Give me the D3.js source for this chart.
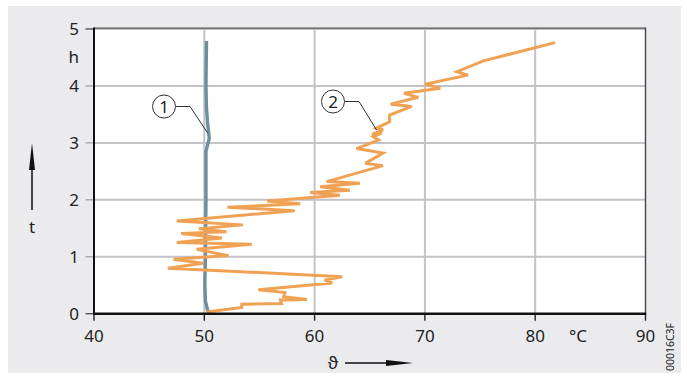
<!DOCTYPE html>
<html><head><meta charset="utf-8">
<script src="https://cdn.jsdelivr.net/npm/d3@7"></script>
<style>
html,body{margin:0;padding:0;background:#fff;}
svg{display:block;}
text{font-family:"Noto Sans","Open Sans",sans-serif;fill:#222;}
</style></head>
<body>
<svg id="c" width="687" height="381"></svg>
<script>
// ---- data ----
const tempTicks = [40, 50, 60, 70, 80, 90];
const timeTicks = [0, 1, 2, 3, 4, 5];
// curve 2 (orange): temperature °C vs time h
const curve2Temp = [50.2, 53.4, 53.4, 57.0, 56.9, 59.3, 57.2, 57.3, 54.9, 61.6, 60.9, 62.5, 46.7, 49.9, 47.2, 52.2, 49.3, 54.3, 47.5, 51.6, 47.9, 52.0, 49.5, 53.5, 47.5, 58.2, 52.1, 58.7, 55.7, 62.3, 59.6, 63.2, 60.5, 64.1, 61.1, 66.2, 64.6, 66.2, 63.8, 65.8, 65.3, 66.1, 65.2, 66.2, 65.6, 66.8, 66.8, 68.8, 66.9, 69.4, 68.1, 71.4, 70.0, 73.9, 72.9, 75.3, 81.8];
const curve2Time = [0.03, 0.11, 0.165, 0.18, 0.24, 0.25, 0.30, 0.37, 0.42, 0.54, 0.59, 0.65, 0.80, 0.885, 0.955, 1.02, 1.13, 1.22, 1.25, 1.33, 1.41, 1.44, 1.49, 1.56, 1.63, 1.81, 1.87, 1.93, 1.98, 2.08, 2.13, 2.17, 2.23, 2.29, 2.32, 2.60, 2.64, 2.82, 2.90, 3.05, 3.11, 3.17, 3.15, 3.23, 3.26, 3.37, 3.49, 3.64, 3.68, 3.80, 3.87, 3.96, 4.03, 4.19, 4.25, 4.44, 4.76];
// curve 1 (blue)
const curve1Temp = [50.35, 50.1, 50.05, 50.1, 50.15, 50.15, 50.15, 50.45, 50.3, 50.2, 50.15, 50.2];
const curve1Time = [0.03, 0.22, 0.5, 1.0, 2.0, 2.65, 2.85, 3.08, 3.35, 3.6, 4.0, 4.79];
const yLabels = ["0", "1", "2", "3", "4", "5"];
const xLabels = ["40", "50", "60", "70", "80", "90"];

// ---- drawing ----
const svg = d3.select("#c");
svg.append("rect").attr("x", 8).attr("y", 6).attr("width", 673).attr("height", 367).attr("fill", "#ebebed");

const x = d3.scaleLinear().domain([40, 90]).range([94, 645.5]);
const y = d3.scaleLinear().domain([0, 5]).range([313.7, 29]);

svg.append("rect").attr("x", x(40)).attr("y", y(5)).attr("width", x(90) - x(40)).attr("height", y(0) - y(5)).attr("fill", "#fff");

// grid
svg.append("g").selectAll("line").data(tempTicks.slice(1, -1)).join("line")
  .attr("x1", d => x(d)).attr("x2", d => x(d)).attr("y1", y(0)).attr("y2", y(5))
  .attr("stroke", "#c3c3c7").attr("stroke-width", 2);
svg.append("g").selectAll("line").data(timeTicks.slice(1)).join("line")
  .attr("x1", x(40)).attr("x2", x(90)).attr("y1", d => y(d)).attr("y2", d => y(d))
  .attr("stroke", "#c3c3c7").attr("stroke-width", 2);

// frame top/right
svg.append("line").attr("x1", x(40)).attr("x2", x(90)).attr("y1", y(5) - 0.8).attr("y2", y(5) - 0.8).attr("stroke", "#555").attr("stroke-width", 1.2);
svg.append("line").attr("x1", x(90)).attr("x2", x(90)).attr("y1", y(5) - 1.4).attr("y2", y(0)).attr("stroke", "#444").attr("stroke-width", 1.4);

// y ticks (left)
svg.append("g").selectAll("line").data(timeTicks).join("line")
  .attr("x1", 85.5).attr("x2", x(40)).attr("y1", d => y(d)).attr("y2", d => y(d))
  .attr("stroke", d => (d === 5 || d === 0) ? "#555" : "#a8a8ac").attr("stroke-width", 1.4);
// x ticks (below)
svg.append("g").selectAll("line").data(tempTicks).join("line")
  .attr("x1", d => x(d)).attr("x2", d => x(d)).attr("y1", y(0)).attr("y2", y(0) + 7)
  .attr("stroke", "#222").attr("stroke-width", 1.4);

// curves
const line = d3.line().x(d => x(d[0])).y(d => y(d[1]));
const c1 = curve1Temp.map((t, i) => [t, curve1Time[i]]);
const c2 = curve2Temp.map((t, i) => [t, curve2Time[i]]);
svg.append("path").attr("d", line(c1)).attr("fill", "none").attr("stroke", "#6e8fa0").attr("stroke-width", 3.4).attr("stroke-linejoin", "round");
svg.append("path").attr("d", line(c2)).attr("fill", "none").attr("stroke", "#f0a254").attr("stroke-width", 3).attr("stroke-linejoin", "miter").attr("stroke-miterlimit", 3);

// axes lines
svg.append("line").attr("x1", x(40)).attr("x2", x(40)).attr("y1", y(5) - 1.4).attr("y2", y(0) + 1).attr("stroke", "#111").attr("stroke-width", 2);
svg.append("line").attr("x1", x(40) - 1).attr("x2", x(90) + 0.7).attr("y1", y(0)).attr("y2", y(0)).attr("stroke", "#111").attr("stroke-width", 2.4);

// tick labels
const fs = 17;
svg.append("g").selectAll("text").data(timeTicks).join("text")
  .attr("x", 79).attr("y", d => y(d) + 6).attr("text-anchor", "end").attr("font-size", fs)
  .text((d, i) => yLabels[i]);
svg.append("text").attr("x", 79).attr("y", y(4.5) + 6).attr("text-anchor", "end").attr("font-size", fs).text("h");
svg.append("g").selectAll("text").data(tempTicks).join("text")
  .attr("x", d => x(d)).attr("y", 342).attr("text-anchor", "middle").attr("font-size", fs)
  .text((d, i) => xLabels[i]);
svg.append("text").attr("x", 578).attr("y", 342).attr("text-anchor", "middle").attr("font-size", fs).text("°C");

// axis titles with arrows
svg.append("text").attr("x", 333).attr("y", 369).attr("text-anchor", "middle").attr("font-size", fs).text("ϑ");
svg.append("line").attr("x1", 345).attr("x2", 390).attr("y1", 363).attr("y2", 363).attr("stroke", "#111").attr("stroke-width", 1.5);
svg.append("path").attr("d", "M386,360 L413,363 L386,366 Z").attr("fill", "#111");
svg.append("line").attr("x1", 32).attr("x2", 32).attr("y1", 210).attr("y2", 165).attr("stroke", "#111").attr("stroke-width", 1.5);
svg.append("path").attr("d", "M29,170 L32,143 L35,170 Z").attr("fill", "#111");
svg.append("text").attr("x", 32).attr("y", 233).attr("text-anchor", "middle").attr("font-size", fs).text("t");

// callouts
function callout(cx, cy, label, pts) {
  svg.append("polyline").attr("points", pts.map(p => p.join(",")).join(" ")).attr("fill", "none").attr("stroke", "#333").attr("stroke-width", 1);
  svg.append("circle").attr("cx", cx).attr("cy", cy).attr("r", 11.5).attr("fill", "#fff").attr("stroke", "#333").attr("stroke-width", 1);
  svg.append("text").attr("x", cx).attr("y", cy + 6).attr("text-anchor", "middle").attr("font-size", fs).text(label);
}
callout(164, 106.5, "1", [[175.5, 106.5], [190, 106.5], [208, 133.5]]);
callout(333, 101.5, "2", [[344.5, 101.5], [359, 101.5], [376.5, 130]]);

// code label
svg.append("text").attr("transform", "translate(674,347) rotate(-90)").attr("text-anchor", "middle").attr("font-size", 10.5).text("00016C3F");
</script>
</body></html>
